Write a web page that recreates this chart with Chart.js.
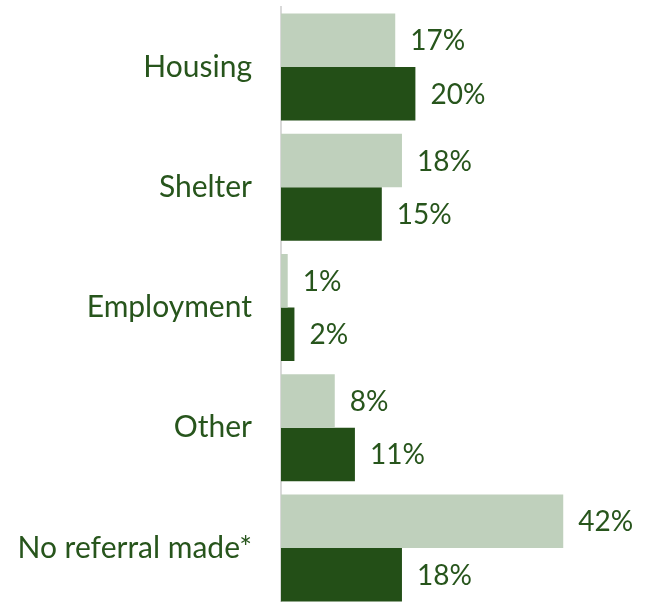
<!DOCTYPE html>
<html>
<head>
<meta charset="utf-8">
<script src="https://cdn.jsdelivr.net/npm/chart.js@4"></script>
<style>
    html, body { margin: 0; padding: 0; background: #fff; overflow: hidden; height: 602px; }
    #wrap { width: 648px; height: 610px; position: relative; }
</style>
</head>
<body>
<div id="wrap"><canvas id="chart"></canvas></div>
<script>
// -------------------------
// Data
// -------------------------
const categories = ['Housing', 'Shelter', 'Employment', 'Other', 'No referral made*'];
const seriesA = [17, 18, 1, 8, 42];   // light bars
const seriesB = [20, 15, 2, 11, 18];  // dark bars

const lightGreen = '#bfd0bc';
const darkGreen = '#234f17';
const textGreen = '#27551c';
const fontFamily = 'Lato, "Open Sans", sans-serif';

// -------------------------
// Value labels at bar ends
// -------------------------
const valueLabels = {
    id: 'valueLabels',
    afterDatasetsDraw(chart) {
        const ctx = chart.ctx;
        ctx.save();
        ctx.font = `28px ${fontFamily}`;
        ctx.fillStyle = textGreen;
        ctx.textBaseline = 'middle';
        ctx.textAlign = 'left';
        chart.data.datasets.forEach((ds, i) => {
            chart.getDatasetMeta(i).data.forEach((bar, j) => {
                ctx.fillText(ds.data[j] + '%', bar.x + 15, bar.y + 1);
            });
        });
        ctx.restore();
    }
};

const ctx = document.getElementById('chart').getContext('2d');
new Chart(ctx, {
    type: 'bar',
    data: {
        labels: categories,
        datasets: [
            { data: seriesA, backgroundColor: lightGreen, categoryPercentage: 0.89, barPercentage: 1.0 },
            { data: seriesB, backgroundColor: darkGreen, categoryPercentage: 0.89, barPercentage: 1.0 }
        ]
    },
    options: {
        indexAxis: 'y',
        responsive: true,
        maintainAspectRatio: false,
        animation: false,
        layout: { padding: { top: 7, bottom: 2, left: 0, right: 31 } },
        plugins: { legend: { display: false }, tooltip: { enabled: false } },
        scales: {
            x: { display: false, min: 0, max: 50 },
            y: {
                afterFit: (scale) => {
                    scale.width = 281;
                    scale.paddingTop = 0;
                    scale.paddingBottom = 0;
                },
                grid: { display: false, drawTicks: false },
                border: { display: true, color: '#d9d9d9', width: 2 },
                ticks: {
                    padding: 29,
                    color: textGreen,
                    font: { family: fontFamily, size: 30 }
                }
            }
        }
    },
    plugins: [valueLabels]
});
</script>
</body>
</html>
